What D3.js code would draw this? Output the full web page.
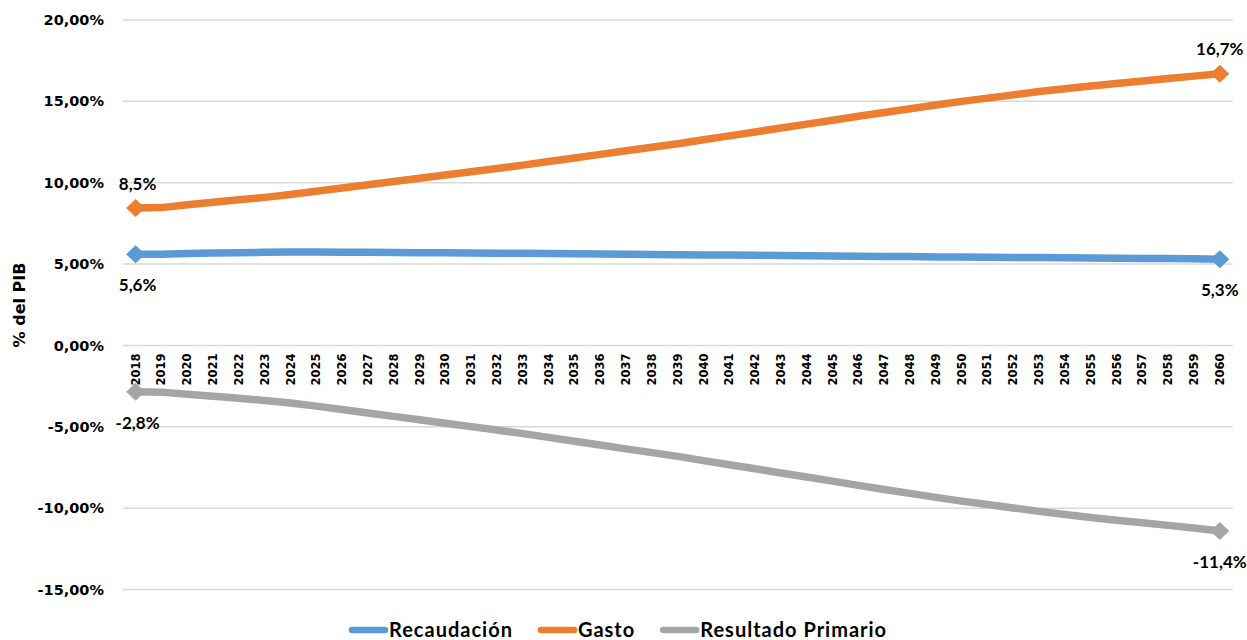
<!DOCTYPE html>
<html><head><meta charset="utf-8">
<script src="https://cdn.jsdelivr.net/npm/d3@7"></script>
<style>
html,body{margin:0;padding:0;background:#fff;}
svg{display:block;}
</style></head>
<body>
<svg id="chart" width="1247" height="640"></svg>
<script>
const years = ["2018","2019","2020","2021","2022","2023","2024","2025","2026","2027","2028","2029","2030","2031","2032","2033","2034","2035","2036","2037","2038","2039","2040","2041","2042","2043","2044","2045","2046","2047","2048","2049","2050","2051","2052","2053","2054","2055","2056","2057","2058","2059","2060"];
const recaudacion = [5.60,5.60,5.65,5.68,5.70,5.72,5.74,5.74,5.73,5.72,5.71,5.70,5.69,5.68,5.67,5.66,5.65,5.63,5.62,5.60,5.59,5.58,5.56,5.55,5.54,5.52,5.51,5.50,5.48,5.47,5.46,5.44,5.43,5.42,5.41,5.40,5.39,5.37,5.36,5.35,5.34,5.33,5.30];
const gasto = [8.45,8.47,8.65,8.80,8.95,9.10,9.28,9.47,9.67,9.87,10.07,10.27,10.47,10.67,10.87,11.08,11.30,11.52,11.74,11.96,12.18,12.40,12.64,12.88,13.12,13.36,13.60,13.84,14.08,14.32,14.55,14.78,15.00,15.20,15.40,15.60,15.78,15.95,16.10,16.25,16.40,16.55,16.70];
const resultado = [-2.85,-2.87,-3.00,-3.12,-3.25,-3.38,-3.54,-3.73,-3.94,-4.15,-4.36,-4.57,-4.78,-4.99,-5.20,-5.42,-5.65,-5.89,-6.12,-6.36,-6.59,-6.82,-7.08,-7.33,-7.58,-7.84,-8.09,-8.34,-8.60,-8.85,-9.09,-9.34,-9.57,-9.78,-9.99,-10.20,-10.39,-10.58,-10.74,-10.90,-11.06,-11.22,-11.40];
const yTicks = [-15,-10,-5,0,5,10,15,20];
const seriesNames = ["Recaudación","Gasto","Resultado Primario"];
const seriesColors = ["#5B9BD5","#ED7D31","#A5A5A5"];
const firstLabels = ["5,6%","8,5%","-2,8%"];
const lastLabels = ["5,3%","16,7%","-11,4%"];

const series = [recaudacion, gasto, resultado];
const svg = d3.select("#chart");

const left = 122.7, right = 1232.7;
const x = d3.scaleBand().domain(years).range([left, right]).padding(0);
const cx = d => x(d) + x.bandwidth()/2;
const y = d3.scaleLinear().domain([-15, 20]).range([589.5, 20]);

const fmtTick = v => d3.format(".2f")(v).replace(".", ",").replace("−","-") + "%";

// gridlines
svg.append("g").selectAll("line").data(yTicks).join("line")
  .attr("x1", left).attr("x2", right)
  .attr("y1", d => y(d)).attr("y2", d => y(d))
  .attr("stroke", "#D9D9D9").attr("stroke-width", 1.5);

// y axis labels
const yAxis = d3.axisLeft(y).tickValues(yTicks).tickFormat(fmtTick).tickSize(0).tickPadding(0);
const gy = svg.append("g").attr("transform", `translate(104,0)`).call(yAxis);
gy.select(".domain").remove();
gy.selectAll("text").attr("font-family", "DejaVu Sans").attr("font-weight", "bold")
  .attr("font-size", 14.5).attr("fill", "#000");

// y title
svg.append("text").attr("transform", "translate(25,305) rotate(-90)")
  .attr("text-anchor", "middle").attr("font-family", "DejaVu Sans").attr("font-weight", "bold")
  .attr("font-size", 16).attr("fill", "#000").text("% del PIB");

// x axis labels
const xAxis = d3.axisBottom(x).tickSize(0).tickPadding(0);
const gx = svg.append("g").attr("transform", `translate(0,${y(0)})`).call(xAxis);
gx.select(".domain").remove();
gx.selectAll("text")
  .attr("font-family", "DejaVu Sans").attr("font-weight", "bold").attr("font-size", 11.5).attr("fill", "#000")
  .attr("transform", "rotate(-90)")
  .attr("text-anchor", "end").attr("x", -8).attr("y", 0).attr("dy", "0.35em");

// lines
const line = d3.line().x((d, i) => cx(years[i])).y(d => y(d));
const diamond = "M-9.5,0L0,-9L9.5,0L0,9Z";
series.forEach((s, k) => {
  svg.append("path").datum(s).attr("d", line)
    .attr("fill", "none").attr("stroke", seriesColors[k]).attr("stroke-width", 7.5)
    .attr("stroke-linejoin", "round").attr("stroke-linecap", "round");
  const ends = [0, s.length - 1];
  svg.append("g").selectAll("path").data(ends).join("path")
    .attr("d", diamond)
    .attr("transform", i => `translate(${cx(years[i])},${y(s[i])})`)
    .attr("fill", seriesColors[k]);
});

// data labels
const labelStyle = sel => sel.attr("font-family", "Lato").attr("font-weight", "bold")
  .attr("font-size", 17).attr("fill", "#000").attr("text-anchor", "middle");
const labelOffsets = [[31, 31], [-24, -25], [31, 31]];
series.forEach((s, k) => {
  const n = s.length - 1;
  svg.append("text").call(labelStyle)
    .attr("x", cx(years[0]) + 2).attr("y", y(s[0]) + labelOffsets[k][0]).attr("dy", "0.35em").text(firstLabels[k]);
  svg.append("text").call(labelStyle)
    .attr("x", cx(years[n])).attr("y", y(s[n]) + labelOffsets[k][1]).attr("dy", "0.35em").text(lastLabels[k]);
});

// legend
const lg = svg.append("g");
let xpos = 0;
seriesNames.forEach((name, k) => {
  const g = lg.append("g").attr("transform", `translate(${xpos},0)`);
  g.append("line").attr("x1", 3).attr("x2", 36).attr("y1", 0).attr("y2", 0)
    .attr("stroke", seriesColors[k]).attr("stroke-width", 6.5).attr("stroke-linecap", "round");
  const t = g.append("text").attr("x", 40).attr("y", 0).attr("dy", "0.35em")
    .attr("font-family", "Lato").attr("font-weight", "bold").attr("font-size", 20)
    .attr("letter-spacing", 1).attr("fill", "#000").text(name);
  const w = t.node().getComputedTextLength();
  xpos += 40 + w + 25;
});
lg.attr("transform", `translate(349,630)`);
</script>
</body></html>
